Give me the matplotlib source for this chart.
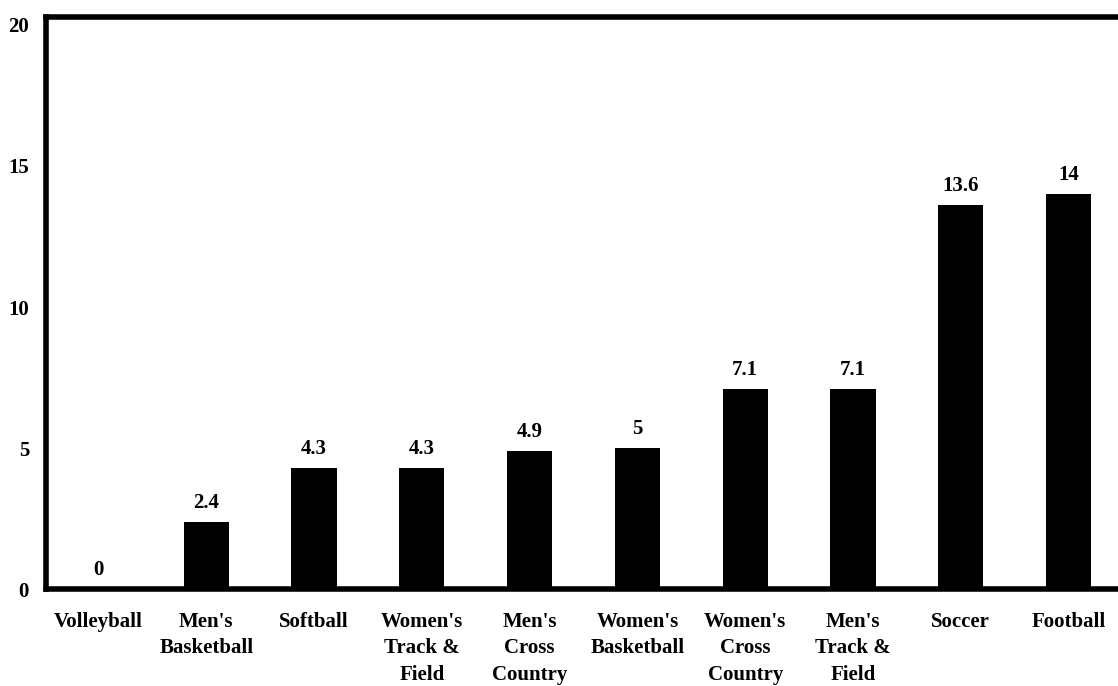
import matplotlib.pyplot as plt

sports = ['Volleyball', "Men's\nBasketball", 'Softball', "Women's\nTrack &\nField",
          "Men's\nCross\nCountry", "Women's\nBasketball", "Women's\nCross\nCountry",
          "Men's\nTrack &\nField", 'Soccer', 'Football']
values = [0, 2.4, 4.3, 4.3, 4.9, 5, 7.1, 7.1, 13.6, 14]
value_labels = ['0', '2.4', '4.3', '4.3', '4.9', '5', '7.1', '7.1', '13.6', '14']
y_ticks = [0, 5, 10, 15, 20]

plt.rcParams['font.family'] = ['Liberation Serif', 'DejaVu Serif']
plt.rcParams['font.weight'] = 'bold'
plt.rcParams['font.size'] = 15

fig = plt.figure(figsize=(11.18, 6.86), dpi=100)
ax = fig.add_axes([0.0409, 0.1407, 0.9591, 0.8338])

x = list(range(len(sports)))
ax.bar(x, values, width=0.42, color='black', zorder=2)

for xi, v, lab in zip(x, values, value_labels):
    ax.annotate(lab, (xi, v), xytext=(0, 6.5), textcoords='offset points',
                ha='center', va='bottom', fontsize=15, fontweight='bold')

ax.set_xlim(-0.489, 9.458)
ax.set_ylim(0, 20.25)
ax.set_xticks(x)
ax.set_xticklabels(sports, fontsize=15, fontweight='bold', linespacing=1.45)
ax.set_yticks(y_ticks)
ax.set_yticklabels([str(t) for t in y_ticks], fontsize=15, fontweight='bold')
ax.tick_params(axis='x', length=0, pad=16)
ax.tick_params(axis='y', length=0, pad=12)

for side in ['left', 'top', 'bottom']:
    ax.spines[side].set_linewidth(4)
ax.spines['right'].set_visible(False)

fig.savefig('out.png', dpi=100)
plt.close()
